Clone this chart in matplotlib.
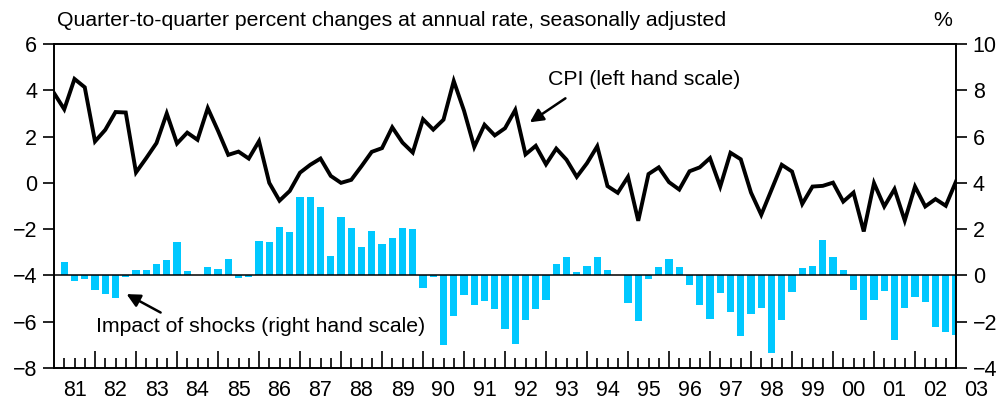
import numpy as np
import matplotlib
matplotlib.use("Agg")
import matplotlib.pyplot as plt
from matplotlib.ticker import FixedLocator, NullFormatter

plt.rcParams['font.family'] = ['Liberation Sans', 'DejaVu Sans']

# quarterly data, first point = 1981 start
start_year = 1981
cpi = [3.88, 3.18, 4.49, 4.13, 1.79, 2.29, 3.06, 3.04, 0.45, 1.07,
       1.72, 3.00, 1.70, 2.17, 1.86, 3.23, 2.25, 1.21, 1.35, 1.05,
       1.80, 0.00, -0.77, -0.35, 0.44, 0.78, 1.05, 0.30, 0.00, 0.13,
       0.72, 1.34, 1.50, 2.40, 1.74, 1.31, 2.75, 2.30, 2.73, 4.40,
       3.12, 1.55, 2.51, 2.05, 2.36, 3.15, 1.23, 1.60, 0.80, 1.48,
       1.00, 0.26, 0.85, 1.58, -0.14, -0.43, 0.26, -1.64, 0.38, 0.67,
       0.03, -0.29, 0.50, 0.67, 1.07, -0.16, 1.30, 1.02, -0.42, -1.38,
       -0.30, 0.78, 0.49, -0.91, -0.16, -0.13, 0.01, -0.81, -0.42, -2.10,
       -0.01, -1.02, -0.27, -1.63, -0.16, -1.02, -0.70, -0.99, 0.06]
shocks = [0.00, 0.57, -0.25, -0.15, -0.63, -0.79, -0.98, -0.05, 0.22, 0.22,
          0.48, 0.65, 1.44, 0.19, 0.00, 0.35, 0.26, 0.69, -0.12, -0.07,
          1.47, 1.44, 2.08, 1.87, 3.37, 3.37, 2.94, 0.82, 2.51, 2.07,
          1.21, 1.90, 1.34, 1.60, 2.07, 1.99, -0.55, -0.07, -3.01, -1.77,
          -0.85, -1.28, -1.11, -1.46, -2.32, -2.97, -1.93, -1.46, -1.07, 0.48,
          0.78, 0.13, 0.39, 0.78, 0.22, 0.03, -1.21, -1.99, -0.16, 0.35,
          0.69, 0.35, -0.42, -1.28, -1.89, -0.78, -1.58, -2.62, -1.67, -1.41,
          -3.36, -1.93, -0.72, 0.30, 0.39, 1.51, 0.78, 0.22, -0.63, -1.93,
          -1.07, -0.68, -2.80, -1.41, -0.94, -1.15, -2.23, -2.45, -2.58]
year_labels = ['81', '82', '83', '84', '85', '86', '87', '88', '89', '90', '91', '92',
               '93', '94', '95', '96', '97', '98', '99', '00', '01', '02', '03']

x = start_year + np.arange(len(cpi)) / 4.0

fig = plt.figure(figsize=(10.07, 4.08), dpi=100)
ax = fig.add_axes([54 / 1007, 1 - 368 / 408, 902 / 1007, 324 / 408])
ax2 = ax.twinx()

ax2.bar(x, shocks, width=0.18, color='#00C8FF', zorder=2)
ax2.axhline(0, color='black', lw=1.1, zorder=3)
ax.plot(x, cpi, color='black', lw=2.8, solid_joinstyle='miter', zorder=4)

ax.set_zorder(ax2.get_zorder() + 1)
ax.patch.set_visible(False)

ax.set_xlim(1981, 2003)
ax.set_ylim(-8, 6)
ax2.set_ylim(-4, 10)
ax.set_yticks(np.arange(-8, 7, 2))
ax2.set_yticks(np.arange(-4, 11, 2))
ax.set_yticklabels([str(v).replace('-', '\u2212') for v in range(-8, 7, 2)])
ax2.set_yticklabels([str(v).replace('-', '\u2212') for v in range(-4, 11, 2)])

ax.xaxis.set_major_locator(FixedLocator(np.arange(1982, 2003)))
ax.xaxis.set_minor_locator(FixedLocator(x[1:-1]))
ax.xaxis.set_major_formatter(NullFormatter())
ax.tick_params(axis='x', which='major', direction='in', length=12, width=1.2)
ax.tick_params(axis='x', which='minor', direction='in', length=7, width=1.2)
ax.tick_params(axis='y', direction='out', length=8, width=1.2, labelsize=15.5, pad=4)
ax2.tick_params(axis='y', direction='out', length=8, width=1.2, labelsize=15.5, pad=4)

for a in (ax, ax2):
    for s in a.spines.values():
        s.set_linewidth(1.2)

for k, lab in enumerate(year_labels):
    ax.text(start_year + k + 0.5, -8.5, lab, ha='center', va='top', fontsize=15.5,
            clip_on=False)

fig.text(57 / 1007, 1 - 20 / 408,
         'Quarter-to-quarter percent changes at annual rate, seasonally adjusted',
         ha='left', va='center', fontsize=15.3)
fig.text(943 / 1007, 1 - 20 / 408, '%', ha='center', va='center', fontsize=15.3)

ax.text(1993.06, 4.45, 'CPI (left hand scale)', ha='left', va='center', fontsize=15.3)
ax.annotate('', xy=(1992.55, 2.55), xytext=(1993.53, 3.72),
            arrowprops=dict(arrowstyle='-|>', color='black', lw=1.8, mutation_scale=20))
ax.text(1982.03, -6.22, 'Impact of shocks (right hand scale)', ha='left', va='center',
        fontsize=15.3)
ax.annotate('', xy=(1982.71, -4.75), xytext=(1983.66, -5.66),
            arrowprops=dict(arrowstyle='-|>', color='black', lw=1.8, mutation_scale=20))

fig.savefig('out.png', dpi=100)
